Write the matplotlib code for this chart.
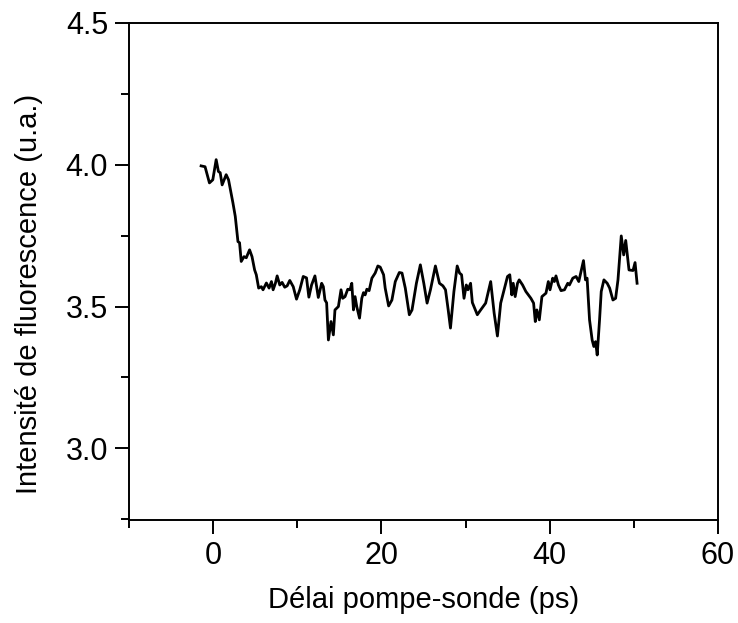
import numpy as np
import matplotlib
matplotlib.use('Agg')
import matplotlib.pyplot as plt
from matplotlib.ticker import MultipleLocator

# données : délai (ps) et intensité (u.a.)
delai = [-1.43, -0.96, -0.44, -0.04, 0.36, 0.63, 0.84, 1.07, 1.55, 1.83,
         2.35, 2.63, 2.95, 3.14, 3.34, 3.67, 3.94, 4.33, 4.62, 4.93,
         5.13, 5.41, 5.73, 5.93, 6.33, 6.65, 6.93, 7.13, 7.40, 7.61,
         7.92, 8.20, 8.51, 8.80, 9.11, 9.52, 9.91, 10.30, 10.71, 11.10,
         11.38, 11.70, 12.10, 12.50, 12.90, 13.10, 13.29, 13.49, 13.70, 14.01,
         14.29, 14.48, 14.89, 15.20, 15.40, 15.68, 16.00, 16.27, 16.48, 16.68,
         16.87, 17.07, 17.40, 17.67, 17.87, 18.07, 18.27, 18.54, 18.87, 19.26,
         19.58, 19.86, 20.26, 20.45, 20.86, 21.25, 21.65, 22.13, 22.45, 22.84,
         23.32, 23.64, 24.16, 24.63, 25.04, 25.43, 25.83, 26.42, 26.90, 27.31,
         27.62, 27.94, 28.21, 28.62, 29.01, 29.29, 29.53, 29.82, 30.09, 30.29,
         30.60, 30.81, 31.40, 31.80, 32.39, 32.99, 33.40, 33.79, 34.18, 34.59,
         34.99, 35.26, 35.50, 35.67, 35.90, 36.18, 36.38, 36.78, 37.17, 37.77,
         38.09, 38.29, 38.48, 38.77, 39.08, 39.56, 39.84, 40.04, 40.36, 40.56,
         40.75, 41.04, 41.35, 41.76, 42.15, 42.35, 42.75, 43.14, 43.46, 44.02,
         44.26, 44.45, 44.74, 45.05, 45.25, 45.46, 45.65, 45.93, 46.13, 46.45,
         46.84, 47.13, 47.52, 47.84, 48.12, 48.51, 48.80, 49.04, 49.43, 49.91,
         50.15, 50.39]
intensite = [3.996, 3.993, 3.936, 3.947, 4.018, 3.976, 3.972, 3.929, 3.965, 3.947,
             3.866, 3.818, 3.729, 3.725, 3.659, 3.676, 3.672, 3.700, 3.676, 3.629,
             3.612, 3.565, 3.570, 3.559, 3.583, 3.565, 3.588, 3.559, 3.582, 3.608,
             3.576, 3.585, 3.568, 3.573, 3.592, 3.570, 3.526, 3.559, 3.606, 3.601,
             3.533, 3.576, 3.608, 3.532, 3.582, 3.570, 3.523, 3.513, 3.382, 3.447,
             3.400, 3.488, 3.500, 3.559, 3.529, 3.535, 3.561, 3.559, 3.582, 3.488,
             3.535, 3.500, 3.459, 3.529, 3.549, 3.541, 3.561, 3.556, 3.600, 3.618,
             3.643, 3.639, 3.612, 3.565, 3.502, 3.523, 3.588, 3.620, 3.618, 3.565,
             3.471, 3.488, 3.582, 3.647, 3.582, 3.512, 3.559, 3.643, 3.582, 3.573,
             3.559, 3.488, 3.424, 3.553, 3.643, 3.618, 3.612, 3.529, 3.576, 3.559,
             3.582, 3.514, 3.471, 3.488, 3.512, 3.588, 3.477, 3.396, 3.512, 3.559,
             3.606, 3.612, 3.541, 3.582, 3.535, 3.582, 3.594, 3.576, 3.553, 3.529,
             3.512, 3.447, 3.488, 3.453, 3.535, 3.547, 3.588, 3.559, 3.600, 3.588,
             3.608, 3.576, 3.556, 3.559, 3.582, 3.576, 3.600, 3.606, 3.588, 3.662,
             3.594, 3.600, 3.453, 3.382, 3.359, 3.376, 3.329, 3.453, 3.553, 3.594,
             3.582, 3.565, 3.523, 3.529, 3.594, 3.749, 3.682, 3.733, 3.629, 3.627,
             3.655, 3.582]

plt.rcParams['font.family'] = ['Liberation Sans', 'DejaVu Sans']

fig = plt.figure(figsize=(7.38, 6.23), dpi=100)
ax = fig.add_axes([0.1748, 0.1653, 0.798, 0.7978])

ax.plot(delai, intensite, color='black', lw=2.0)

ax.set_xlim(-10, 60)
ax.set_ylim(2.747, 4.5)
ax.xaxis.set_major_locator(MultipleLocator(20))
ax.xaxis.set_minor_locator(MultipleLocator(10))
ax.yaxis.set_major_locator(MultipleLocator(0.5))
ax.yaxis.set_minor_locator(MultipleLocator(0.25))
ax.set_yticks([3.0, 3.5, 4.0, 4.5])

ax.tick_params(which='major', direction='out', length=10, width=1.4, labelsize=22, pad=5)
ax.tick_params(which='minor', direction='out', length=5.5, width=1.4)
for s in ax.spines.values():
    s.set_linewidth(1.4)

ax.set_xlabel('Délai pompe-sonde (ps)', fontsize=21, labelpad=11)
ax.set_ylabel('Intensité de fluorescence (u.a.)', fontsize=21, labelpad=16)
ax.yaxis.label.set_y(0.455)

fig.savefig('out.png', dpi=100)
